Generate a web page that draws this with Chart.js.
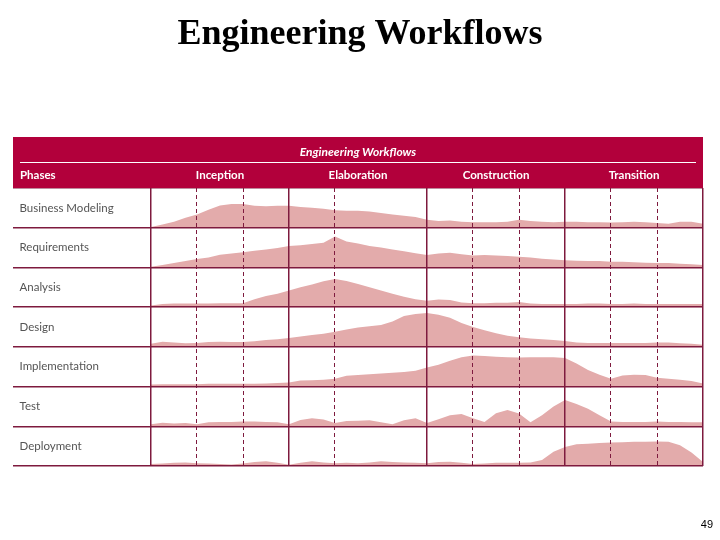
<!DOCTYPE html>
<html>
<head>
<meta charset="utf-8">
<script src="https://cdn.jsdelivr.net/npm/chart.js@4/dist/chart.umd.min.js"></script>
<style>
  html, body { margin: 0; padding: 0; background: #fff; }
  canvas { display: block; }
</style>
</head>
<body>
<canvas id="chart1" width="720" height="540"></canvas>
<script>
const pageTitle = 'Engineering Workflows';
const tableTitle = 'Engineering Workflows';
const pageNumber = '49';
const phases = ['Inception', 'Elaboration', 'Construction', 'Transition'];
const workflows = ['Business Modeling', 'Requirements', 'Analysis', 'Design', 'Implementation', 'Test', 'Deployment'];

// phase edges and iteration edges, in phase units
const phaseBounds = [0, 1, 2, 3, 4];
const iterationBounds = [0.333, 0.667, 1.333, 2.333, 2.667, 3.333, 3.667];

// hump heights (share of the row), one sample every 1/12 of a phase
const businessModeling = [0.02, 0.08, 0.15, 0.25, 0.33, 0.45, 0.56, 0.6, 0.6, 0.55, 0.54, 0.55, 0.55, 0.52, 0.5, 0.48, 0.44, 0.43, 0.43, 0.41, 0.37, 0.33, 0.3, 0.27, 0.2, 0.17, 0.18, 0.15, 0.14, 0.14, 0.14, 0.15, 0.2, 0.17, 0.15, 0.14, 0.15, 0.15, 0.14, 0.14, 0.13, 0.14, 0.15, 0.14, 0.12, 0.1, 0.15, 0.15, 0.1];
const requirements = [0.02, 0.06, 0.11, 0.16, 0.21, 0.25, 0.32, 0.35, 0.38, 0.42, 0.45, 0.49, 0.54, 0.56, 0.59, 0.62, 0.78, 0.65, 0.6, 0.54, 0.5, 0.45, 0.41, 0.36, 0.31, 0.35, 0.37, 0.33, 0.3, 0.31, 0.3, 0.29, 0.27, 0.25, 0.22, 0.2, 0.18, 0.17, 0.16, 0.16, 0.14, 0.14, 0.13, 0.12, 0.11, 0.11, 0.09, 0.08, 0.06];
const analysis = [0.04, 0.08, 0.09, 0.09, 0.09, 0.09, 0.1, 0.1, 0.1, 0.2, 0.28, 0.34, 0.42, 0.5, 0.57, 0.65, 0.71, 0.66, 0.58, 0.5, 0.42, 0.34, 0.26, 0.2, 0.16, 0.19, 0.18, 0.12, 0.1, 0.1, 0.11, 0.11, 0.13, 0.09, 0.08, 0.08, 0.08, 0.08, 0.09, 0.09, 0.08, 0.08, 0.09, 0.08, 0.08, 0.08, 0.08, 0.08, 0.08];
const design = [0.08, 0.13, 0.11, 0.09, 0.1, 0.12, 0.13, 0.12, 0.12, 0.14, 0.17, 0.19, 0.22, 0.26, 0.3, 0.33, 0.38, 0.44, 0.49, 0.52, 0.55, 0.64, 0.78, 0.83, 0.85, 0.81, 0.73, 0.6, 0.5, 0.42, 0.34, 0.28, 0.24, 0.21, 0.19, 0.17, 0.15, 0.11, 0.1, 0.1, 0.1, 0.1, 0.1, 0.1, 0.11, 0.11, 0.09, 0.08, 0.05];
const implementation = [0.05, 0.06, 0.06, 0.06, 0.06, 0.07, 0.07, 0.07, 0.07, 0.07, 0.08, 0.09, 0.1, 0.15, 0.16, 0.17, 0.2, 0.27, 0.29, 0.31, 0.33, 0.35, 0.37, 0.4, 0.48, 0.55, 0.65, 0.74, 0.78, 0.77, 0.75, 0.74, 0.73, 0.74, 0.74, 0.74, 0.72, 0.58, 0.42, 0.3, 0.2, 0.28, 0.3, 0.29, 0.22, 0.2, 0.17, 0.14, 0.08];
const test = [0.05, 0.09, 0.07, 0.08, 0.05, 0.1, 0.11, 0.11, 0.12, 0.12, 0.11, 0.1, 0.05, 0.16, 0.2, 0.17, 0.08, 0.13, 0.14, 0.15, 0.1, 0.05, 0.15, 0.2, 0.08, 0.18, 0.28, 0.31, 0.2, 0.11, 0.33, 0.41, 0.32, 0.1, 0.28, 0.5, 0.66, 0.56, 0.44, 0.28, 0.12, 0.11, 0.11, 0.11, 0.12, 0.11, 0.11, 0.1, 0.1];
const deployment = [0.05, 0.06, 0.08, 0.09, 0.07, 0.06, 0.05, 0.04, 0.06, 0.1, 0.12, 0.08, 0.03, 0.08, 0.12, 0.09, 0.07, 0.08, 0.07, 0.09, 0.12, 0.1, 0.09, 0.08, 0.07, 0.1, 0.11, 0.08, 0.05, 0.06, 0.08, 0.08, 0.08, 0.09, 0.15, 0.36, 0.48, 0.55, 0.56, 0.58, 0.59, 0.6, 0.61, 0.61, 0.62, 0.61, 0.52, 0.34, 0.1];

const series = [businessModeling, requirements, analysis, design, implementation, test, deployment];
const samplesPerPhase = 12;

const headerColor = '#b2003b';
const lineColor = '#7e1a3e';
const humpColor = '#e3abab';
const labelColor = '#555555';

const ctx1 = document.getElementById('chart1');

// slide title, page number and the red band with the phase names
const headerPlugin = {
  id: 'header',
  afterDraw(chart) {
    const {ctx, chartArea: a} = chart;
    const x = chart.scales.x;
    const top = a.top - 51;
    ctx.save();
    ctx.fillStyle = '#000000';
    ctx.textBaseline = 'alphabetic';
    ctx.textAlign = 'center';
    ctx.font = 'bold 36px "Liberation Serif"';
    ctx.fillText(pageTitle, chart.width / 2, 43.5);
    ctx.font = '11px "Liberation Sans"';
    ctx.textAlign = 'right';
    ctx.fillText(pageNumber, 713, 528);

    ctx.fillStyle = headerColor;
    ctx.fillRect(a.left, top, a.right - a.left, 51);
    ctx.fillStyle = '#ffffff';
    ctx.textBaseline = 'middle';
    ctx.textAlign = 'center';
    ctx.font = 'italic bold 12px Lato';
    ctx.fillText(tableTitle, (a.left + a.right) / 2, top + 15);
    ctx.strokeStyle = '#ffffff';
    ctx.lineWidth = 1;
    ctx.beginPath();
    ctx.moveTo(a.left + 7, top + 25.5);
    ctx.lineTo(a.right - 7, top + 25.5);
    ctx.stroke();
    ctx.font = 'bold 11.5px Lato';
    ctx.textAlign = 'left';
    ctx.fillText('Phases', a.left + 7, top + 38);
    ctx.textAlign = 'center';
    phases.forEach((p, k) => {
      ctx.fillText(p, x.getPixelForValue(k + 0.5), top + 38);
    });
    ctx.restore();
  }
};

new Chart(ctx1, {
  type: 'line',
  data: {
    datasets: workflows.map((name, r) => {
      const base = workflows.length - 1 - r;
      return {
        label: name,
        data: series[r].map((v, i) => ({x: i / samplesPerPhase, y: base + v})),
        fill: {value: base},
        backgroundColor: humpColor,
        borderWidth: 0,
        pointRadius: 0,
        tension: 0,
        xAxisID: 'x',
        yAxisID: 'y',
      };
    }),
  },
  options: {
    responsive: false,
    animation: false,
    layout: {padding: {left: 0, right: 17, top: 188, bottom: 74}},
    plugins: {
      legend: {display: false},
      tooltip: {enabled: false},
    },
    scales: {
      x: {
        type: 'linear',
        min: -1,
        max: 4,
        afterBuildTicks: (s) => { s.ticks = phaseBounds.map(v => ({value: v})); },
        ticks: {display: false},
        grid: {color: lineColor, lineWidth: 1.5, drawTicks: false, z: 1},
        border: {display: false},
      },
      xIter: {
        type: 'linear',
        position: 'bottom',
        min: -1,
        max: 4,
        afterBuildTicks: (s) => { s.ticks = iterationBounds.map(v => ({value: v})); },
        ticks: {display: false},
        grid: {color: lineColor, lineWidth: 1, drawTicks: false, z: 1},
        border: {display: false, dash: [4, 3]},
      },
      y: {
        type: 'linear',
        min: 0,
        max: workflows.length,
        afterBuildTicks: (s) => {
          const t = [];
          for (let k = 0; k <= workflows.length * 2; k++) t.push({value: k / 2});
          s.ticks = t;
        },
        ticks: {
          mirror: true,
          padding: 6.5,
          color: labelColor,
          font: {family: 'Lato', size: 11.5},
          callback: (v) => (v % 1 === 0 ? '' : workflows[workflows.length - 1 - Math.floor(v)]),
        },
        grid: {
          color: (c) => (c.tick && c.tick.value % 1 === 0 ? lineColor : 'rgba(0,0,0,0)'),
          lineWidth: 1.5,
          drawTicks: false,
          z: 1,
        },
        border: {display: false},
      },
    },
  },
  plugins: [headerPlugin],
});
</script>
</body>
</html>
